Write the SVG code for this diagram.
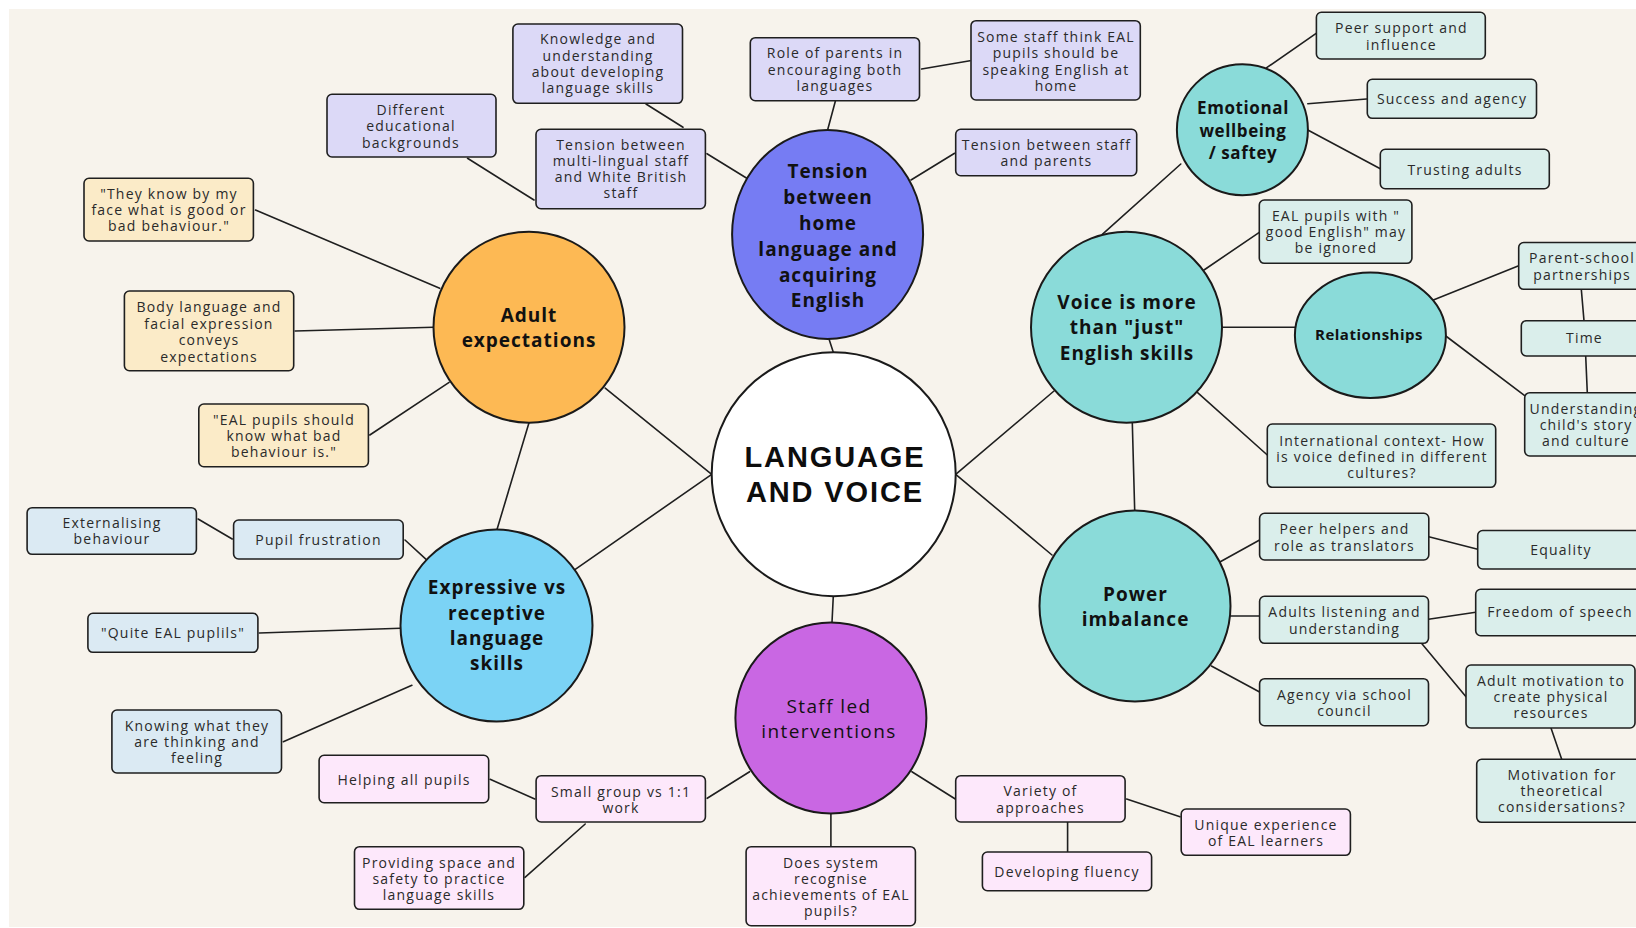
<svg xmlns="http://www.w3.org/2000/svg" width="1636" height="928" viewBox="0 0 1636 928">
  <style>
    .bg { fill: #f7f3ec; }
    .link { stroke: #1f1f1f; stroke-width: 1.6; fill: none; stroke-linecap: round; }
    .hub { stroke: #1a1a1a; stroke-width: 2; }
    .box { stroke: #1f1f1f; stroke-width: 1.6; }
    .lav { fill: #dcd9f7; }
    .yel { fill: #fbebc8; }
    .sky { fill: #dbeaf3; }
    .pnk { fill: #fde8fb; }
    .tea { fill: #daeeeb; }
    .t { font-family: "Open Sans", "Liberation Sans", sans-serif; font-size: 14px; letter-spacing: 1.2px; fill: #2a2a2a; text-anchor: middle; }
    .hb { font-family: "Open Sans", "Liberation Sans", sans-serif; font-size: 19px; font-weight: 700; letter-spacing: 1px; fill: #111; text-anchor: middle; }
    .core { font-family: "Liberation Sans", Arial, sans-serif; font-size: 29px; font-weight: 700; letter-spacing: 1.9px; fill: #0d0d0d; text-anchor: middle; }
  </style>

  <rect class="bg" x="9" y="9" width="1627" height="918"/>

  <!-- connectors -->
  <g id="connectors">
    <line class="link" x1="467.5" y1="158.3" x2="534" y2="200"/>
    <line class="link" x1="646" y1="104" x2="683" y2="127.3"/>
    <line class="link" x1="707" y1="153.7" x2="746.8" y2="178.3"/>
    <line class="link" x1="835.4" y1="101" x2="827.8" y2="129.3"/>
    <line class="link" x1="921.6" y1="69" x2="970" y2="60.7"/>
    <line class="link" x1="911" y1="180" x2="954.6" y2="153.3"/>
    <line class="link" x1="829" y1="339" x2="833.3" y2="352.3"/>
    <line class="link" x1="255.5" y1="210" x2="439.7" y2="288.3"/>
    <line class="link" x1="295.1" y1="331" x2="433.4" y2="327.3"/>
    <line class="link" x1="369.8" y1="435" x2="449.1" y2="382.3"/>
    <line class="link" x1="529" y1="422.7" x2="497" y2="529.5"/>
    <line class="link" x1="605.2" y1="388.1" x2="711.7" y2="474.3"/>
    <line class="link" x1="711.7" y1="474.3" x2="574.9" y2="569.7"/>
    <line class="link" x1="198.1" y1="519" x2="232.2" y2="539"/>
    <line class="link" x1="405" y1="540" x2="426.1" y2="559.3"/>
    <line class="link" x1="259.3" y1="633" x2="400.4" y2="628.3"/>
    <line class="link" x1="283.3" y1="741.7" x2="411.9" y2="685.3"/>
    <line class="link" x1="833.3" y1="596" x2="832" y2="622.5"/>
    <line class="link" x1="749.6" y1="771.7" x2="707.2" y2="798.3"/>
    <line class="link" x1="534.8" y1="799" x2="490.1" y2="779.3"/>
    <line class="link" x1="585.2" y1="824" x2="525" y2="877.3"/>
    <line class="link" x1="830.9" y1="813.5" x2="830.9" y2="846.7"/>
    <line class="link" x1="911.9" y1="771.7" x2="955.3" y2="799"/>
    <line class="link" x1="1126.6" y1="799" x2="1180" y2="816.7"/>
    <line class="link" x1="1067.6" y1="822.3" x2="1067.6" y2="851.7"/>
    <line class="link" x1="955.7" y1="474.3" x2="1054" y2="391"/>
    <line class="link" x1="955.7" y1="474.3" x2="1052" y2="555"/>
    <line class="link" x1="1102.3" y1="234.3" x2="1180.8" y2="164"/>
    <line class="link" x1="1266.7" y1="67.7" x2="1317.6" y2="32.3"/>
    <line class="link" x1="1307.8" y1="103.7" x2="1366.5" y2="99"/>
    <line class="link" x1="1307.8" y1="130" x2="1380.3" y2="168.7"/>
    <line class="link" x1="1204" y1="270" x2="1259.3" y2="232.3"/>
    <line class="link" x1="1222" y1="327.3" x2="1294.9" y2="327.3"/>
    <line class="link" x1="1433.3" y1="300" x2="1518.7" y2="265.7"/>
    <line class="link" x1="1445.8" y1="336" x2="1524.7" y2="395.7"/>
    <line class="link" x1="1581.3" y1="289.3" x2="1584" y2="320.7"/>
    <line class="link" x1="1585.7" y1="356" x2="1587.3" y2="392.7"/>
    <line class="link" x1="1197.6" y1="392.7" x2="1267.3" y2="455"/>
    <line class="link" x1="1132.3" y1="422.7" x2="1134.7" y2="510.5"/>
    <line class="link" x1="1220.3" y1="561.7" x2="1259.6" y2="540"/>
    <line class="link" x1="1428.8" y1="536.7" x2="1477.7" y2="549.3"/>
    <line class="link" x1="1230.5" y1="616" x2="1259.6" y2="616"/>
    <line class="link" x1="1428.5" y1="619.3" x2="1475.7" y2="612.3"/>
    <line class="link" x1="1421.5" y1="643.3" x2="1466" y2="696.7"/>
    <line class="link" x1="1551" y1="728" x2="1561.7" y2="759.3"/>
    <line class="link" x1="1211.4" y1="666" x2="1259.6" y2="692"/>
  </g>

  <!-- central hub -->
  <g id="language-and-voice">
    <circle class="hub" cx="833.7" cy="474.2" r="122" fill="#ffffff"/>
    <text class="core" x="835" y="466.5">LANGUAGE</text>
    <text class="core" x="835" y="501.5">AND VOICE</text>
  </g>

  <!-- tension between home language and English -->
  <g id="tension-home-language">
    <ellipse class="hub" cx="827.6" cy="234.5" rx="95.5" ry="104.5" fill="#767cf3"/>
    <text class="hb" x="828" y="178.3">Tension</text>
    <text class="hb" x="828" y="204">between</text>
    <text class="hb" x="828" y="229.8">home</text>
    <text class="hb" x="828" y="255.8">language and</text>
    <text class="hb" x="828" y="281.5">acquiring</text>
    <text class="hb" x="828" y="306.8">English</text>
  </g>
  <g id="knowledge-understanding">
    <rect class="box lav" x="512.9" y="24" width="169.6" height="79.3" rx="5"/>
    <text class="t" x="598" y="44.3">Knowledge and</text>
    <text class="t" x="598" y="60.7">understanding</text>
    <text class="t" x="598" y="77">about developing</text>
    <text class="t" x="598" y="93.3">language skills</text>
  </g>
  <g id="different-backgrounds">
    <rect class="box lav" x="327" y="94.3" width="169" height="62.7" rx="5"/>
    <text class="t" x="411" y="115">Different</text>
    <text class="t" x="411" y="131.3">educational</text>
    <text class="t" x="411" y="147.5">backgrounds</text>
  </g>
  <g id="tension-multilingual-staff">
    <rect class="box lav" x="536" y="129.3" width="169.4" height="79.4" rx="5"/>
    <text class="t" x="621" y="150">Tension between</text>
    <text class="t" x="621" y="166.3">multi-lingual staff</text>
    <text class="t" x="621" y="182.3">and White British</text>
    <text class="t" x="621" y="198.3">staff</text>
  </g>
  <g id="role-of-parents">
    <rect class="box lav" x="750.3" y="37.7" width="169.2" height="63" rx="5"/>
    <text class="t" x="835" y="58.3">Role of parents in</text>
    <text class="t" x="835" y="74.7">encouraging both</text>
    <text class="t" x="835" y="91">languages</text>
  </g>
  <g id="speaking-english-at-home">
    <rect class="box lav" x="971" y="20.7" width="169.3" height="79.3" rx="5"/>
    <text class="t" x="1056" y="42">Some staff think EAL</text>
    <text class="t" x="1056" y="58.3">pupils should be</text>
    <text class="t" x="1056" y="74.7">speaking English at</text>
    <text class="t" x="1056" y="90.7">home</text>
  </g>
  <g id="tension-staff-parents">
    <rect class="box lav" x="955.7" y="129.3" width="181" height="46.4" rx="5"/>
    <text class="t" x="1046.5" y="150">Tension between staff</text>
    <text class="t" x="1046.5" y="166.3">and parents</text>
  </g>

  <!-- adult expectations -->
  <g id="adult-expectations">
    <circle class="hub" cx="529" cy="327.2" r="95.5" fill="#fdb954"/>
    <text class="hb" x="529" y="322">Adult</text>
    <text class="hb" x="529" y="347">expectations</text>
  </g>
  <g id="they-know-by-my-face">
    <rect class="box yel" x="84" y="178.3" width="169.4" height="62.7" rx="5"/>
    <text class="t" x="169" y="198.7">"They know by my</text>
    <text class="t" x="169" y="215">face what is good or</text>
    <text class="t" x="169" y="231">bad behaviour."</text>
  </g>
  <g id="body-language">
    <rect class="box yel" x="124.4" y="291" width="169.3" height="79.7" rx="5"/>
    <text class="t" x="209" y="312.3">Body language and</text>
    <text class="t" x="209" y="328.7">facial expression</text>
    <text class="t" x="209" y="345.3">conveys</text>
    <text class="t" x="209" y="361.7">expectations</text>
  </g>
  <g id="know-bad-behaviour">
    <rect class="box yel" x="198.8" y="404" width="169.6" height="62.7" rx="5"/>
    <text class="t" x="284" y="424.7">"EAL pupils should</text>
    <text class="t" x="284" y="441">know what bad</text>
    <text class="t" x="284" y="457.3">behaviour is."</text>
  </g>

  <!-- expressive vs receptive -->
  <g id="expressive-receptive">
    <circle class="hub" cx="496.5" cy="625.5" r="96" fill="#7bd3f5"/>
    <text class="hb" x="497" y="594">Expressive vs</text>
    <text class="hb" x="497" y="619.5">receptive</text>
    <text class="hb" x="497" y="645">language</text>
    <text class="hb" x="497" y="670">skills</text>
  </g>
  <g id="externalising-behaviour">
    <rect class="box sky" x="27.1" y="507.7" width="169.3" height="46.6" rx="5"/>
    <text class="t" x="112" y="528.3">Externalising</text>
    <text class="t" x="112" y="544.3">behaviour</text>
  </g>
  <g id="pupil-frustration">
    <rect class="box sky" x="233.6" y="520" width="169.6" height="39" rx="5"/>
    <text class="t" x="318.5" y="545">Pupil frustration</text>
  </g>
  <g id="quiet-eal-pupils">
    <rect class="box sky" x="87.9" y="613.3" width="170" height="39" rx="5"/>
    <text class="t" x="173" y="638">"Quite EAL puplils"</text>
  </g>
  <g id="thinking-and-feeling">
    <rect class="box sky" x="111.9" y="710" width="169.6" height="63" rx="5"/>
    <text class="t" x="197" y="730.7">Knowing what they</text>
    <text class="t" x="197" y="746.7">are thinking and</text>
    <text class="t" x="197" y="763">feeling</text>
  </g>

  <!-- staff led interventions -->
  <g id="staff-led-interventions">
    <circle class="hub" cx="830.9" cy="718" r="95.5" fill="#c967e3"/>
    <text class="hb" x="829" y="713.3" style="font-weight:400;letter-spacing:1.4px">Staff led</text>
    <text class="hb" x="829" y="738" style="font-weight:400;letter-spacing:1.4px">interventions</text>
  </g>
  <g id="small-group">
    <rect class="box pnk" x="536.1" y="775.7" width="169.3" height="46.3" rx="5"/>
    <text class="t" x="621" y="796.7">Small group vs 1:1</text>
    <text class="t" x="621" y="812.7">work</text>
  </g>
  <g id="helping-all-pupils">
    <rect class="box pnk" x="319.1" y="755.3" width="169.6" height="47.4" rx="5"/>
    <text class="t" x="404" y="784.5">Helping all pupils</text>
  </g>
  <g id="space-and-safety">
    <rect class="box pnk" x="354.5" y="846.7" width="169.3" height="62.6" rx="5"/>
    <text class="t" x="439" y="867.7">Providing space and</text>
    <text class="t" x="439" y="884">safety to practice</text>
    <text class="t" x="439" y="900">language skills</text>
  </g>
  <g id="recognise-achievements">
    <rect class="box pnk" x="746.1" y="846.7" width="169.3" height="79" rx="5"/>
    <text class="t" x="831" y="867.7">Does system</text>
    <text class="t" x="831" y="884">recognise</text>
    <text class="t" x="831" y="900">achievements of EAL</text>
    <text class="t" x="831" y="916.3">pupils?</text>
  </g>
  <g id="variety-of-approaches">
    <rect class="box pnk" x="955.7" y="775.7" width="169.4" height="46.3" rx="5"/>
    <text class="t" x="1040.5" y="796.3">Variety of</text>
    <text class="t" x="1040.5" y="812.7">approaches</text>
  </g>
  <g id="developing-fluency">
    <rect class="box pnk" x="982.4" y="852" width="169.2" height="38.7" rx="5"/>
    <text class="t" x="1067" y="876.7">Developing fluency</text>
  </g>
  <g id="unique-experience">
    <rect class="box pnk" x="1181.2" y="809" width="169.2" height="46.3" rx="5"/>
    <text class="t" x="1266" y="830">Unique experience</text>
    <text class="t" x="1266" y="846">of EAL learners</text>
  </g>

  <!-- voice is more than English skills -->
  <g id="voice-beyond-english">
    <circle class="hub" cx="1126.5" cy="327.2" r="95.5" fill="#8adbd9"/>
    <text class="hb" x="1127" y="308.5">Voice is more</text>
    <text class="hb" x="1127" y="334">than "just"</text>
    <text class="hb" x="1127" y="359.5">English skills</text>
  </g>
  <g id="emotional-wellbeing">
    <circle class="hub" cx="1242.4" cy="129.7" r="65.5" fill="#8adbd9"/>
    <text class="hb" x="1243" y="114.3" style="font-size:17px;letter-spacing:0.6px">Emotional</text>
    <text class="hb" x="1243" y="136.5" style="font-size:17px;letter-spacing:0.6px">wellbeing</text>
    <text class="hb" x="1243" y="158.8" style="font-size:17px;letter-spacing:0.6px">/ saftey</text>
  </g>
  <g id="peer-support">
    <rect class="box tea" x="1316.4" y="12.3" width="168.9" height="46.7" rx="5"/>
    <text class="t" x="1401.5" y="33.3">Peer support and</text>
    <text class="t" x="1401.5" y="49.7">influence</text>
  </g>
  <g id="success-and-agency">
    <rect class="box tea" x="1367.3" y="79.3" width="169.2" height="39" rx="5"/>
    <text class="t" x="1452" y="104">Success and agency</text>
  </g>
  <g id="trusting-adults">
    <rect class="box tea" x="1380.3" y="149.3" width="169" height="39.4" rx="5"/>
    <text class="t" x="1465" y="174.5">Trusting adults</text>
  </g>
  <g id="good-english-ignored">
    <rect class="box tea" x="1259.3" y="200" width="152.6" height="63.3" rx="5"/>
    <text class="t" x="1336" y="221">EAL pupils with "</text>
    <text class="t" x="1336" y="237.3">good English" may</text>
    <text class="t" x="1336" y="253.3">be ignored</text>
  </g>
  <g id="relationships">
    <ellipse class="hub" cx="1370.4" cy="335.3" rx="75.5" ry="62.7" fill="#8adbd9"/>
    <text class="hb" x="1369" y="340" style="font-size:15px;letter-spacing:0.5px">Relationships</text>
  </g>
  <g id="parent-school-partnerships">
    <rect class="box tea" x="1518.7" y="242.5" width="127" height="46.8" rx="5"/>
    <text class="t" x="1582" y="263.3">Parent-school</text>
    <text class="t" x="1582" y="279.5">partnerships</text>
  </g>
  <g id="time">
    <rect class="box tea" x="1521.3" y="320.7" width="126" height="35.3" rx="5"/>
    <text class="t" x="1584.5" y="343.3">Time</text>
  </g>
  <g id="child-story-culture">
    <rect class="box tea" x="1524.7" y="392.7" width="121" height="63.3" rx="5"/>
    <text class="t" x="1586" y="414">Understanding</text>
    <text class="t" x="1586" y="430">child's story</text>
    <text class="t" x="1586" y="446">and culture</text>
  </g>
  <g id="international-context">
    <rect class="box tea" x="1267.3" y="424" width="228.4" height="63.3" rx="5"/>
    <text class="t" x="1382" y="445.7">International context- How</text>
    <text class="t" x="1382" y="461.7">is voice defined in different</text>
    <text class="t" x="1382" y="477.7">cultures?</text>
  </g>

  <!-- power imbalance -->
  <g id="power-imbalance">
    <circle class="hub" cx="1135" cy="606" r="95.5" fill="#8adbd9"/>
    <text class="hb" x="1135.5" y="600.7">Power</text>
    <text class="hb" x="1135.5" y="625.7">imbalance</text>
  </g>
  <g id="peer-helpers">
    <rect class="box tea" x="1259.6" y="513.3" width="169.2" height="46.7" rx="5"/>
    <text class="t" x="1344.5" y="534.3">Peer helpers and</text>
    <text class="t" x="1344.5" y="550.7">role as translators</text>
  </g>
  <g id="equality">
    <rect class="box tea" x="1477.7" y="530.5" width="166" height="38.5" rx="5"/>
    <text class="t" x="1561" y="555">Equality</text>
  </g>
  <g id="adults-listening">
    <rect class="box tea" x="1259.6" y="596.3" width="168.9" height="47" rx="5"/>
    <text class="t" x="1344.5" y="617.3">Adults listening and</text>
    <text class="t" x="1344.5" y="633.7">understanding</text>
  </g>
  <g id="freedom-of-speech">
    <rect class="box tea" x="1475.7" y="589.3" width="168" height="46.4" rx="5"/>
    <text class="t" x="1560" y="617">Freedom of speech</text>
  </g>
  <g id="school-council">
    <rect class="box tea" x="1259.6" y="678.7" width="168.9" height="47" rx="5"/>
    <text class="t" x="1344.5" y="700">Agency via school</text>
    <text class="t" x="1344.5" y="716">council</text>
  </g>
  <g id="physical-resources">
    <rect class="box tea" x="1466" y="665" width="169" height="63" rx="5"/>
    <text class="t" x="1551" y="686">Adult motivation to</text>
    <text class="t" x="1551" y="702.3">create physical</text>
    <text class="t" x="1551" y="718.3">resources</text>
  </g>
  <g id="theoretical-considerations">
    <rect class="box tea" x="1476.7" y="759.3" width="169" height="63" rx="5"/>
    <text class="t" x="1562" y="780.3">Motivation for</text>
    <text class="t" x="1562" y="796.3">theoretical</text>
    <text class="t" x="1562" y="812.3">considersations?</text>
  </g>
</svg>
